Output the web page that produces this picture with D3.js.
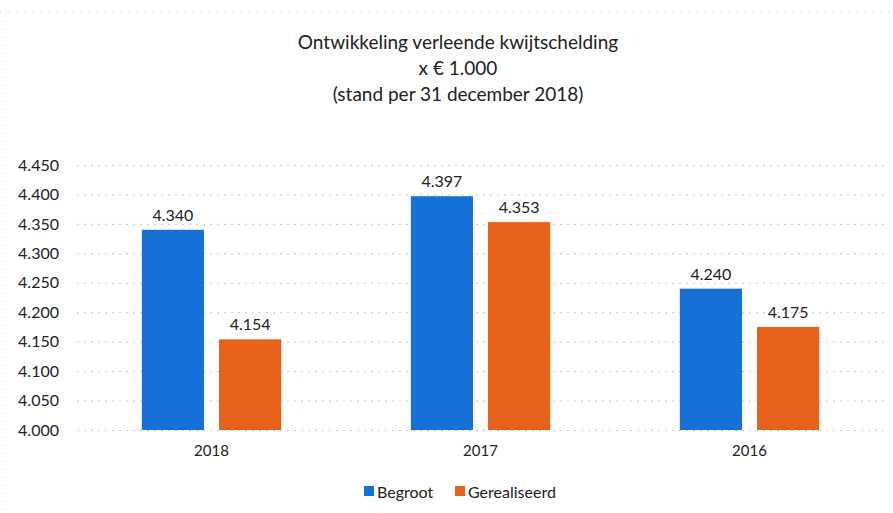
<!DOCTYPE html>
<html>
<head>
<meta charset="utf-8">
<script src="https://cdn.jsdelivr.net/npm/d3@7"></script>
<style>
body{margin:0;background:#fff;}
text{font-family:Lato,"Open Sans",sans-serif;fill:#222;}
</style>
</head>
<body>
<svg id="chart" width="893" height="513"></svg>
<script>
// data
var years = ["2018","2017","2016"];
var series = ["Begroot","Gerealiseerd"];
var begroot = [4340,4397,4240];
var gerealiseerd = [4154,4353,4175];
var yTicks = [4000,4050,4100,4150,4200,4250,4300,4350,4400,4450];
var titleLines = ["Ontwikkeling verleende kwijtschelding","x € 1.000","(stand per 31 december 2018)"];

var COLORS = {"Begroot":"#1570d8","Gerealiseerd":"#e6621a"};
var fmt = function(v){ return d3.format(".3f")(v/1000); };

var svg = d3.select("#chart");
var PLOT_LEFT = 77, PLOT_RIGHT = 884, PLOT_TOP = 165, PLOT_BOTTOM = 430;

// faint page border
svg.append("line").attr("x1",0).attr("y1",12).attr("x2",893).attr("y2",12)
	.style("stroke","#d8dce6").style("stroke-dasharray","2,6");
svg.append("line").attr("x1",5).attr("y1",12).attr("x2",5).attr("y2",513)
	.style("stroke","#d8dce6").style("stroke-dasharray","2,6");

var x = d3.scaleBand().domain(years).range([PLOT_LEFT,PLOT_RIGHT]).paddingInner(0).paddingOuter(0);
var xs = d3.scaleBand().domain(series).range([0,x.bandwidth()]).paddingInner(0.195).paddingOuter(0.84);
var y = d3.scaleLinear().domain([4000,4450]).range([PLOT_BOTTOM,PLOT_TOP]);

// title
svg.selectAll("text.title").data(titleLines).enter().append("text")
	.attr("class","title")
	.attr("x",458).attr("y",function(d,i){return 49+i*26;})
	.style("text-anchor","middle").style("font-size","19px")
	.text(function(d){return d;});

// gridlines
svg.append("g").selectAll("line").data(yTicks).enter().append("line")
	.attr("x1",PLOT_LEFT).attr("x2",PLOT_RIGHT)
	.attr("y1",function(d){return y(d)+0.5;}).attr("y2",function(d){return y(d)+0.5;})
	.style("stroke","#c4c4c4").style("stroke-dasharray","2,5");

// y axis labels
var yAxis = d3.axisLeft(y).tickValues(yTicks).tickSize(0).tickPadding(0).tickFormat(fmt);
var gy = svg.append("g").attr("transform","translate(59,0)").call(yAxis);
gy.select(".domain").remove();
gy.selectAll("text").style("font-size","16px").style("font-family","Lato,sans-serif").style("fill","#222");

// bars
var rows = years.map(function(yr,i){ return {year:yr, values:[{s:"Begroot",v:begroot[i]},{s:"Gerealiseerd",v:gerealiseerd[i]}]}; });
var gBars = svg.append("g").selectAll("g").data(rows).enter().append("g")
	.attr("transform",function(d){return "translate("+x(d.year)+",0)";});

gBars.selectAll("rect").data(function(d){return d.values;}).enter().append("rect")
	.attr("x",function(d){return xs(d.s);})
	.attr("width",xs.bandwidth())
	.attr("y",function(d){return y(d.v);})
	.attr("height",function(d){return y(4000)-y(d.v);})
	.style("fill",function(d){return COLORS[d.s];});

gBars.selectAll("text.val").data(function(d){return d.values;}).enter().append("text")
	.attr("class","val")
	.attr("x",function(d){return xs(d.s)+xs.bandwidth()/2;})
	.attr("y",function(d){return y(d.v)-9;})
	.style("text-anchor","middle").style("font-size","16px")
	.text(function(d){return fmt(d.v);});

// x axis labels
var xAxis = d3.axisBottom(x).tickSize(0).tickPadding(0);
var gx = svg.append("g").attr("transform","translate(0,445)").call(xAxis);
gx.select(".domain").remove();
gx.selectAll("text").style("font-size","15px").style("font-family","Lato,sans-serif").style("fill","#222");

// legend
var legend = svg.append("g").attr("transform","translate(364,498)");
var lx = [0,91];
series.forEach(function(s,i){
	legend.append("rect").attr("x",lx[i]).attr("y",-12).attr("width",10).attr("height",10).style("fill",COLORS[s]);
	legend.append("text").attr("x",lx[i]+13).attr("y",0).style("font-size","16px").text(s);
});
</script>
</body>
</html>
